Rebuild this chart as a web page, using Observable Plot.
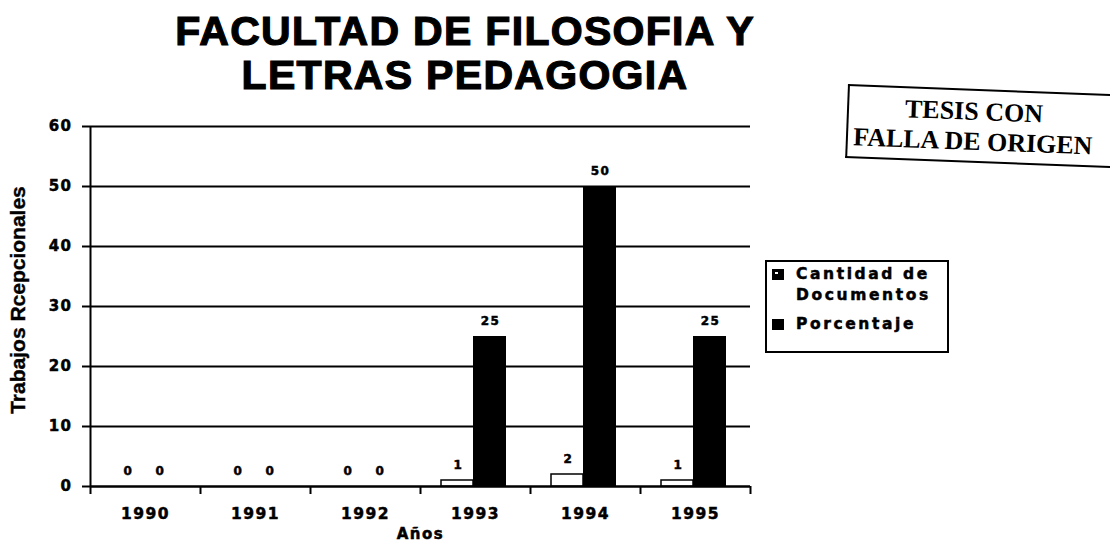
<!DOCTYPE html>
<html><head><meta charset="utf-8">
<script src="https://cdn.jsdelivr.net/npm/d3@7"></script>
<script src="https://cdn.jsdelivr.net/npm/@observablehq/plot@0.6"></script>
<style>
html,body{margin:0;background:#fff;width:1110px;height:550px;overflow:hidden;}
body{position:relative;font-family:"DejaVu Sans",sans-serif;color:#000;}
#title{position:absolute;left:0;width:930px;top:9px;text-align:center;font:bold 41px "Liberation Sans",Arial,sans-serif;line-height:44px;letter-spacing:1.3px;-webkit-text-stroke:1.2px #000;}
#chart{position:absolute;left:0;top:100px;}
#chart svg text{letter-spacing:1.5px;stroke:#000;stroke-width:0.5px;}
#chart svg g[aria-label="x-axis tick label"] text{letter-spacing:2.5px;}
#ylabel{position:absolute;left:-132px;top:288px;width:300px;height:24px;line-height:24px;text-align:center;transform:rotate(-90deg);font:bold 21px "Liberation Sans Narrow","Arial Narrow",sans-serif;-webkit-text-stroke:0.4px #000;}
#legend{position:absolute;left:765px;top:260px;width:180px;height:89px;border:2px solid #000;font:bold 15.5px "DejaVu Sans",sans-serif;letter-spacing:2.6px;-webkit-text-stroke:0.5px #000;}
.item{position:absolute;left:5px;display:flex;align-items:flex-start;}
.sw{display:inline-block;width:12px;height:11px;background:#000;margin-right:12px;margin-top:5px;position:relative;}
.sw.pat::after{content:"";position:absolute;left:3px;top:3px;width:3px;height:2px;background:#fff;}
.lt{width:160px;line-height:21px;}
#stampwrap{position:absolute;left:840px;top:70px;width:280px;height:110px;overflow:hidden;}
#stamp{position:absolute;left:8px;top:14px;width:400px;height:70px;border:none;border-top:2px solid #000;border-left:2px solid #000;border-bottom:2px solid #000;transform:rotate(2.2deg);transform-origin:0 0;}
#stamp div{position:absolute;left:0;width:250px;text-align:center;font:bold 26px "Liberation Serif","DejaVu Serif",serif;}
</style></head>
<body>
<div id="title">FACULTAD DE FILOSOFIA Y<br>LETRAS PEDAGOGIA</div>
<div id="chart"></div>
<div id="ylabel">Trabajos Rcepcionales</div>
<div id="legend"></div>
<div id="stampwrap"><div id="stamp"><div style="top:6px">TESIS CON</div><div style="top:36px">FALLA DE ORIGEN</div></div></div>
<script>
const years = ["1990", "1991", "1992", "1993", "1994", "1995"];
const cantidad = [0, 0, 0, 1, 2, 1];
const porcentaje = [0, 0, 0, 25, 50, 25];
const yTicks = [0, 10, 20, 30, 40, 50, 60];
const seriesNames = ["Cantidad de Documentos", "Porcentaje"];

const rows = years.map((y, i) => ({year: y, cantidad: cantidad[i], porcentaje: porcentaje[i]}));

const chart = Plot.plot({
  width: 1110, height: 450,
  marginLeft: 90, marginRight: 360, marginTop: 26, marginBottom: 64,
  x: {domain: years, padding: 0},
  y: {domain: [0, 60]},
  style: {fontFamily: "DejaVu Sans, sans-serif", fontWeight: "bold", fontSize: "14px", color: "#000", background: "#fff", overflow: "visible"},
  marks: [
    Plot.gridY(yTicks, {stroke: "#000", strokeOpacity: 1, strokeWidth: 2}),
    Plot.barY(rows, {x: "year", y: "cantidad", fill: "#fff", stroke: "#000", strokeWidth: 1.5, insetLeft: 21, insetRight: 57}),
    Plot.barY(rows, {x: "year", y: "porcentaje", fill: "#000", insetLeft: 53, insetRight: 24}),
    Plot.text(rows, {x: "year", y: "cantidad", text: d => String(d.cantidad), dx: -17, dy: -15, fontSize: 12}),
    Plot.text(rows, {x: "year", y: "porcentaje", text: d => String(d.porcentaje), dx: 15, dy: -15, fontSize: 12}),
    Plot.ruleY([0], {stroke: "#000", strokeWidth: 2}),
    Plot.ruleX([years[0]], {dx: -55, y1: 60, y2: 0, stroke: "#000", strokeWidth: 2, insetBottom: -8}),
    Plot.ruleX(years, {dx: 55, y1: 0, y2: 0, stroke: "#000", strokeWidth: 2, insetBottom: -8}),
    Plot.axisX({tickSize: 0, tickPadding: 21, fontSize: 15.5, label: null, ariaLabel: "x-axis tick label"}),
    Plot.axisX({tickSize: 0, ticks: [], label: "Años", labelAnchor: "center", labelOffset: 52, labelArrow: "none", fontSize: 15}),
    Plot.axisY(yTicks, {tickSize: 8, tickPadding: 10, strokeWidth: 2, fontSize: 15, label: null})
  ]
});
document.getElementById("chart").appendChild(chart);

const legend = document.getElementById("legend");
const tops = [2, 52];
seriesNames.forEach((name, i) => {
  const it = document.createElement("div");
  it.className = "item";
  it.style.top = tops[i] + "px";
  it.innerHTML = `<span class="sw${i === 0 ? " pat" : ""}"></span><span class="lt">${name}</span>`;
  legend.appendChild(it);
});
</script>
</body></html>
